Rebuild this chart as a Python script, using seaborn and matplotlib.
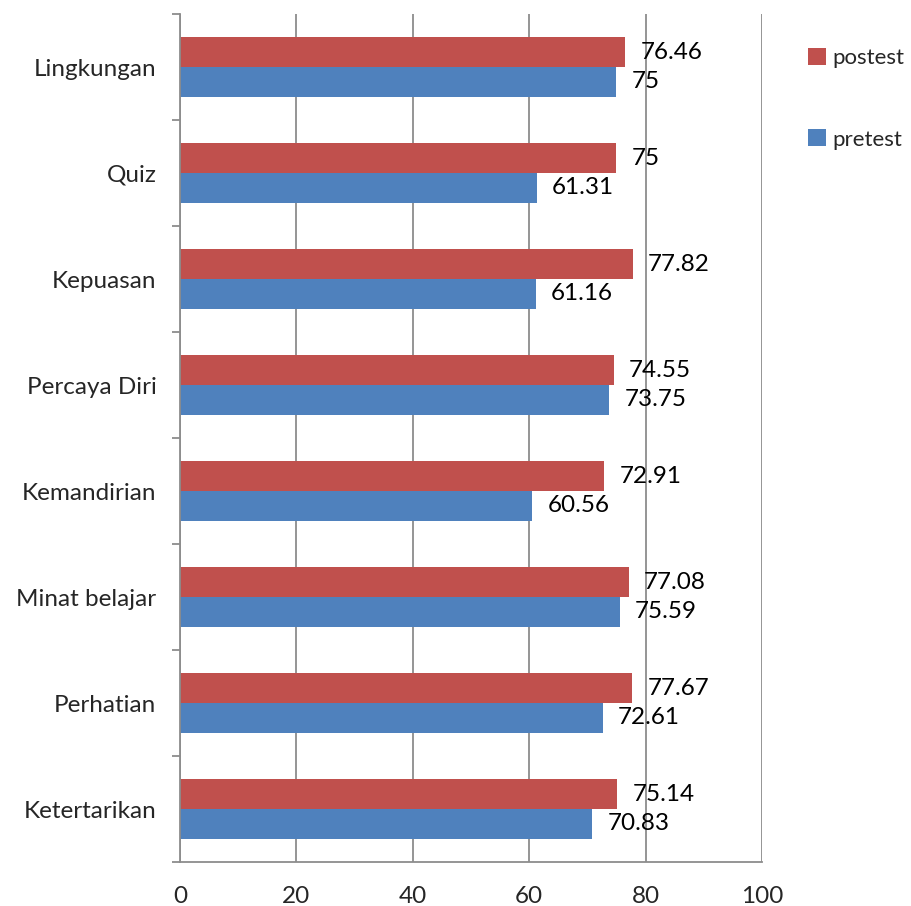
import matplotlib
matplotlib.use("Agg")
import matplotlib.pyplot as plt
import seaborn as sns
import pandas as pd
import numpy as np

categories = ["Lingkungan", "Quiz", "Kepuasan", "Percaya Diri", "Kemandirian",
              "Minat belajar", "Perhatian", "Ketertarikan"]
postest = [76.46, 75, 77.82, 74.55, 72.91, 77.08, 77.67, 75.14]
pretest = [75, 61.31, 61.16, 73.75, 60.56, 75.59, 72.61, 70.83]
series_names = ["postest", "pretest"]
x_ticks = [0, 20, 40, 60, 80, 100]

df = pd.DataFrame({
    "category": categories * 2,
    "value": postest + pretest,
    "series": [series_names[0]] * len(categories) + [series_names[1]] * len(categories),
})

sns.set_style("white")
plt.rcParams['font.family'] = ['Lato', 'DejaVu Sans']
FS = 17.5

fig = plt.figure(figsize=(9.12, 9.06), dpi=100)
ax = fig.add_axes([180/912, 1-862/906, (762-180)/912, (862-14)/906])

palette = {"postest": "#C0504D", "pretest": "#4F81BD"}
sns.barplot(data=df, x="value", y="category", hue="series", hue_order=series_names,
            order=categories, palette=palette, orient="h", width=0.566, gap=0,
            saturation=1, ax=ax, legend=True, linewidth=0)

for cont in ax.containers:
    labels = [f"{v:g}" for v in cont.datavalues]
    ax.bar_label(cont, labels=labels, padding=11, fontsize=FS, color="black")

ax.set_xlim(0, 100)
ax.set_ylim(len(categories) - 0.5, -0.5)
ax.set_xticks(x_ticks)
ax.set_xticklabels([str(t) for t in x_ticks])
ax.set_xlabel("")
ax.set_ylabel("")
ax.xaxis.grid(True, color="#8c8c8c", linewidth=1.3)
ax.set_axisbelow(True)

ax.set_yticks(np.arange(len(categories)))
ax.set_yticklabels(categories)
ax.set_yticks(np.arange(-0.5, len(categories), 1.0), minor=True)
ax.tick_params(axis="y", which="major", length=0, pad=17, labelsize=FS)
ax.tick_params(axis="y", which="minor", length=6, width=1.3, color="#8c8c8c", direction="out")
ax.tick_params(axis="x", which="major", length=6, width=1.3, color="#8c8c8c", direction="out",
               labelsize=FS, pad=11)
ax.tick_params(left=True, which="minor")

for s in ["top", "right"]:
    ax.spines[s].set_visible(False)
for s in ["left", "bottom"]:
    ax.spines[s].set_color("#8c8c8c")
    ax.spines[s].set_linewidth(1.3)

leg = ax.get_legend()
handles = leg.legend_handles
leg.remove()
fig.legend(handles, series_names, loc="upper left", bbox_to_anchor=(797/912, 1-37/906),
           frameon=False, fontsize=16, handlelength=0.8, handleheight=0.8,
           handletextpad=0.3, labelspacing=2.75, borderpad=0)

fig.savefig("out.png", dpi=100)
